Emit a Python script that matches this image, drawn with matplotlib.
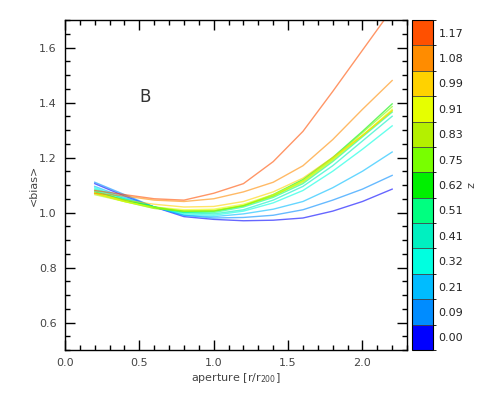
import numpy as np
import matplotlib
matplotlib.use("Agg")
import matplotlib.pyplot as plt
from matplotlib.colors import ListedColormap, BoundaryNorm
from matplotlib.ticker import MultipleLocator
import matplotlib.colorbar as mcolorbar

# ── data ──────────────────────────────────────────────────────────────────────
aperture = [0.2, 0.4, 0.6, 0.8, 1.0, 1.2, 1.4, 1.6, 1.8, 2.0, 2.2]

z_labels = ["0.00", "0.09", "0.21", "0.32", "0.41", "0.51", "0.62",
            "0.75", "0.83", "0.91", "0.99", "1.08", "1.17"]

z_colors = ["#0000ff", "#008cff", "#00bcff", "#00ffe0", "#00f0c0", "#00ff80",
            "#00f000", "#78ff00", "#b4f000", "#e6ff00", "#ffd200", "#ff8c00",
            "#ff5000"]

bias = {
    "0.00": [1.105, 1.06, 1.02, 0.985, 0.975, 0.97, 0.972, 0.98, 1.005, 1.04, 1.085],
    "0.09": [1.11, 1.065, 1.02, 0.99, 0.98, 0.982, 0.99, 1.01, 1.045, 1.085, 1.135],
    "0.21": [1.095, 1.055, 1.02, 0.99, 0.985, 0.995, 1.012, 1.04, 1.09, 1.15, 1.22],
    "0.32": [1.09, 1.05, 1.02, 0.995, 0.99, 1.005, 1.035, 1.08, 1.15, 1.23, 1.315],
    "0.41": [1.085, 1.05, 1.02, 1.0, 0.995, 1.01, 1.045, 1.095, 1.17, 1.26, 1.35],
    "0.51": [1.08, 1.045, 1.02, 1.0, 1.0, 1.02, 1.055, 1.105, 1.185, 1.275, 1.365],
    "0.62": [1.075, 1.045, 1.02, 1.005, 1.005, 1.025, 1.065, 1.12, 1.2, 1.295, 1.395],
    "0.75": [1.07, 1.04, 1.015, 1.005, 1.005, 1.025, 1.06, 1.115, 1.195, 1.29, 1.385],
    "0.83": [1.065, 1.04, 1.015, 1.005, 1.008, 1.025, 1.06, 1.11, 1.19, 1.28, 1.37],
    "0.91": [1.07, 1.04, 1.02, 1.01, 1.012, 1.03, 1.065, 1.115, 1.195, 1.28, 1.375],
    "0.99": [1.07, 1.045, 1.03, 1.02, 1.022, 1.04, 1.075, 1.125, 1.2, 1.28, 1.37],
    "1.08": [1.07, 1.06, 1.045, 1.04, 1.05, 1.075, 1.11, 1.17, 1.265, 1.375, 1.48],
    "1.17": [1.08, 1.065, 1.05, 1.045, 1.07, 1.105, 1.185, 1.295, 1.44, 1.59, 1.74],
}

TXT = "#444444"

# ── figure ────────────────────────────────────────────────────────────────────
fig = plt.figure(figsize=(4.91, 3.93), dpi=100)
ax = fig.add_axes([0.1324, 0.1094, 0.6966, 0.8397])
cax = fig.add_axes([0.839, 0.1094, 0.043, 0.8397])

for lab, col in zip(z_labels, z_colors):
    ax.plot(aperture, bias[lab], color=col, lw=1.0, alpha=0.6)

ax.set_xlim(0, 2.3)
ax.set_ylim(0.5, 1.7)
ax.xaxis.set_major_locator(MultipleLocator(0.5))
ax.xaxis.set_minor_locator(MultipleLocator(0.1))
ax.yaxis.set_major_locator(MultipleLocator(0.2))
ax.yaxis.set_minor_locator(MultipleLocator(0.05))
ax.tick_params(which="both", direction="in", top=True, right=True,
               labelsize=8, labelcolor=TXT, width=1.0)
ax.tick_params(which="major", length=7)
ax.tick_params(which="minor", length=3.5)
ax.set_xticks([0.0, 0.5, 1.0, 1.5, 2.0])
ax.set_xticklabels(["0.0", "0.5", "1.0", "1.5", "2.0"])
ax.set_yticks([0.6, 0.8, 1.0, 1.2, 1.4, 1.6])
ax.set_yticklabels(["0.6", "0.8", "1.0", "1.2", "1.4", "1.6"])
ax.tick_params(axis="x", pad=6)
ax.tick_params(axis="y", pad=6)
for s in ax.spines.values():
    s.set_linewidth(1.0)

ax.set_xlabel(r"aperture [r/r$_{200}$]", fontsize=8, color=TXT, labelpad=2)
ax.set_ylabel("<bias>", fontsize=8, color=TXT, labelpad=0)
ax.text(0.54, 1.42, "B", fontsize=12, color="#333333", ha="center", va="center")

# ── discrete colorbar ─────────────────────────────────────────────────────────
cmap = ListedColormap(z_colors)
norm = BoundaryNorm(np.arange(len(z_colors) + 1), cmap.N)
cb = mcolorbar.ColorbarBase(cax, cmap=cmap, norm=norm, drawedges=True,
                            ticks=np.arange(len(z_colors)) + 0.5)
cb.set_ticklabels(z_labels)
cb.ax.tick_params(length=0, labelsize=8, labelcolor="#222222", pad=4)
cb.outline.set_linewidth(0.8)
cb.dividers.set_color("#444444")
cb.dividers.set_linewidth(0.6)
cb.set_label("z", rotation=270, fontsize=8, color=TXT, labelpad=8)

plt.savefig("out.png", dpi=100)
plt.close()
print("Saved: out.png")
